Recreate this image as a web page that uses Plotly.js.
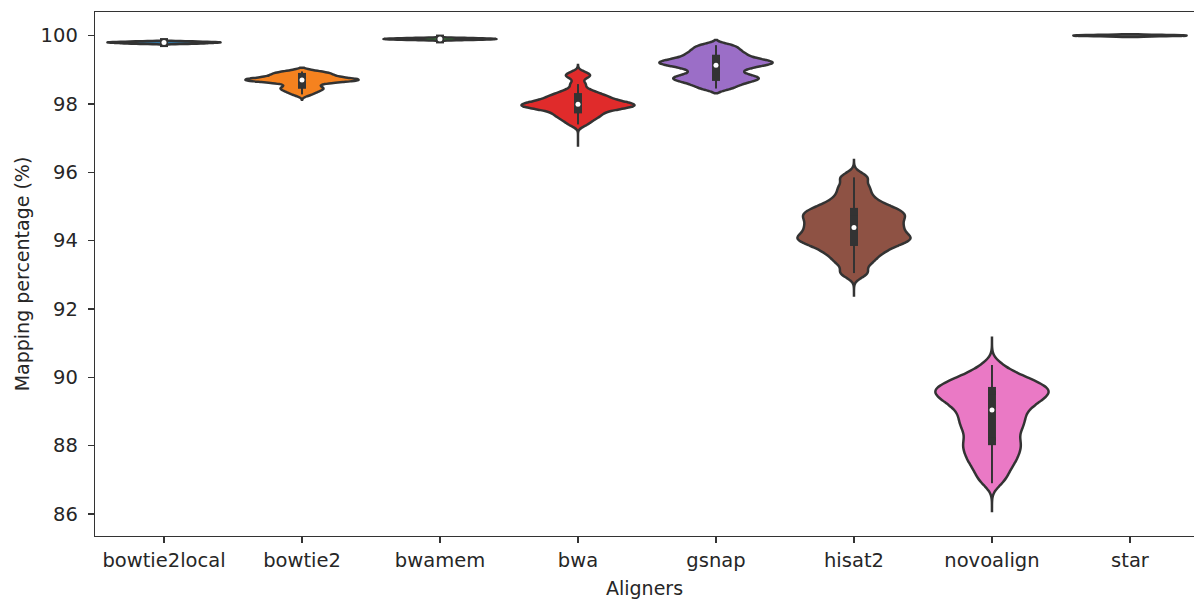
<!DOCTYPE html>
<html><head><meta charset="utf-8">
<script src="https://cdn.plot.ly/plotly-3.0.1.min.js"></script>
<style>html,body{margin:0;padding:0;background:#fff}#chart{width:1194px;height:599px}</style>
</head><body><div id="chart"></div>
<script>
const aligners = ['bowtie2local','bowtie2','bwamem','bwa','gsnap','hisat2','novoalign','star'];

const bowtie2local = [99.76, 99.77, 99.78, 99.79, 99.80, 99.80, 99.81, 99.82, 99.83];
const bowtie2 = [98.28, 98.36, 98.42, 98.46, 98.50, 98.58, 98.64, 98.67, 98.69, 98.70, 98.70, 98.71, 98.72, 98.74, 98.78, 98.82, 98.85, 98.88, 98.92, 98.95];
const bwamem = [99.87, 99.88, 99.89, 99.90, 99.90, 99.91, 99.92, 99.93];
const bwa = [97.40, 97.52, 97.60, 97.66, 97.72, 97.78, 97.83, 97.87, 97.90, 97.92, 97.94, 97.96, 97.98, 98.00, 98.02, 98.05, 98.09, 98.13, 98.17, 98.21, 98.26, 98.32, 98.40, 98.58, 98.80, 98.88];
const gsnap = [98.45, 98.55, 98.62, 98.68, 98.72, 98.76, 98.80, 98.85, 98.92, 99.00, 99.06, 99.11, 99.15, 99.18, 99.21, 99.24, 99.27, 99.31, 99.36, 99.42, 99.48, 99.55, 99.63, 99.72];
const hisat2 = [93.05, 93.35, 93.55, 93.70, 93.82, 93.92, 94.00, 94.06, 94.12, 94.20, 94.30, 94.38, 94.46, 94.55, 94.65, 94.72, 94.80, 94.88, 94.98, 95.10, 95.30, 95.55, 95.85];
const novoalign = [86.90, 87.10, 87.25, 87.40, 87.52, 87.62, 87.72, 87.82, 87.92, 88.00, 88.08, 88.18, 88.28, 88.38, 88.48, 88.56, 88.64, 88.72, 88.80, 88.88, 88.96, 89.04, 89.12, 89.18, 89.24, 89.30, 89.35, 89.40, 89.45, 89.50, 89.55, 89.58, 89.62, 89.66, 89.70, 89.75, 89.80, 89.86, 89.92, 89.98, 90.06, 90.16, 90.36];
const star = [100, 100, 100, 100, 100, 100];

const yTickVals = [86, 88, 90, 92, 94, 96, 98, 100];

const series = [bowtie2local, bowtie2, bwamem, bwa, gsnap, hisat2, novoalign, star];
const fillColors = ['#3274a1', '#f5821f', '#3a923a', '#e02b2b', '#9b6ec7', '#8e5244', '#ea79c5', '#7f7f7f'];
const bandwidths = [0.012, 0.06, 0.012, 0.085, 0.07, 0.14, 0.19, 0.02];
const spans = [null, [98.12, 99.06], null, [96.75, 99.14], [98.31, 99.87], [92.36, 96.36], [86.05, 91.19], null];
const edge = '#333333';

function pct(s, p) {
  const idx = p * (s.length - 1);
  const lo = Math.floor(idx), hi = Math.ceil(idx);
  return s[lo] + (s[hi] - s[lo]) * (idx - lo);
}

const traces = [];
series.forEach((vals, i) => {
  const t = {
    type: 'violin', x0: aligners[i], y: vals, name: aligners[i],
    bandwidth: bandwidths[i], scalemode: 'width', width: 0.82, points: false,
    fillcolor: fillColors[i], opacity: 1, line: {color: edge, width: 2.5},
    box: {visible: false}, meanline: {visible: false},
    hoverinfo: 'skip', showlegend: false
  };
  if (spans[i]) { t.spanmode = 'manual'; t.span = spans[i]; } else { t.spanmode = 'soft'; }
  traces.push(t);
});

series.forEach((vals, i) => {
  const s = [...vals].sort((a, b) => a - b);
  if (s[0] === s[s.length - 1]) return;
  const q1 = pct(s, 0.25), q2 = pct(s, 0.5), q3 = pct(s, 0.75), iqr = q3 - q1;
  const lo = s.find(v => v >= q1 - 1.5 * iqr);
  const hi = [...s].reverse().find(v => v <= q3 + 1.5 * iqr);
  const xx = [aligners[i], aligners[i]];
  traces.push({type: 'scatter', mode: 'lines', x: xx, y: [lo, hi],
    line: {color: edge, width: 2}, hoverinfo: 'skip', showlegend: false});
  traces.push({type: 'scatter', mode: 'lines+markers', x: xx, y: [q1, q3],
    line: {color: edge, width: 8}, marker: {symbol: 'square', size: 8, color: edge},
    hoverinfo: 'skip', showlegend: false});
  traces.push({type: 'scatter', mode: 'markers', x: [aligners[i]], y: [q2],
    marker: {color: '#ffffff', size: 5, line: {width: 0}}, hoverinfo: 'skip', showlegend: false});
});

const layout = {
  width: 1194, height: 599,
  margin: {l: 95, r: 0, t: 12, b: 63},
  paper_bgcolor: '#ffffff', plot_bgcolor: '#ffffff',
  font: {family: 'DejaVu Sans', size: 19, color: '#262626'},
  violinmode: 'overlay',
  xaxis: {
    type: 'category', categoryorder: 'array', categoryarray: aligners,
    range: [-0.5, 7.464], showline: true, linecolor: edge, linewidth: 1.3, mirror: true,
    ticks: 'outside', ticklen: 6, tickwidth: 1.3, tickcolor: edge,
    tickfont: {size: 19.5},
    showgrid: false, zeroline: false, automargin: false,
    title: {text: 'Aligners', font: {size: 19}, standoff: 12}
  },
  yaxis: {
    range: [85.355, 100.69], tickmode: 'array', tickvals: yTickVals, ticktext: yTickVals.map(String),
    showline: true, linecolor: edge, linewidth: 1.3, mirror: false,
    ticks: 'outside', ticklen: 6, tickwidth: 1.3, tickcolor: edge, ticklabelstandoff: 6,
    tickfont: {size: 19.5},
    showgrid: false, zeroline: false, automargin: false,
    title: {text: 'Mapping percentage (%)', font: {size: 19}, standoff: 6}
  }
};

Plotly.newPlot('chart', traces, layout, {staticPlot: true, displayModeBar: false});
</script></body></html>
